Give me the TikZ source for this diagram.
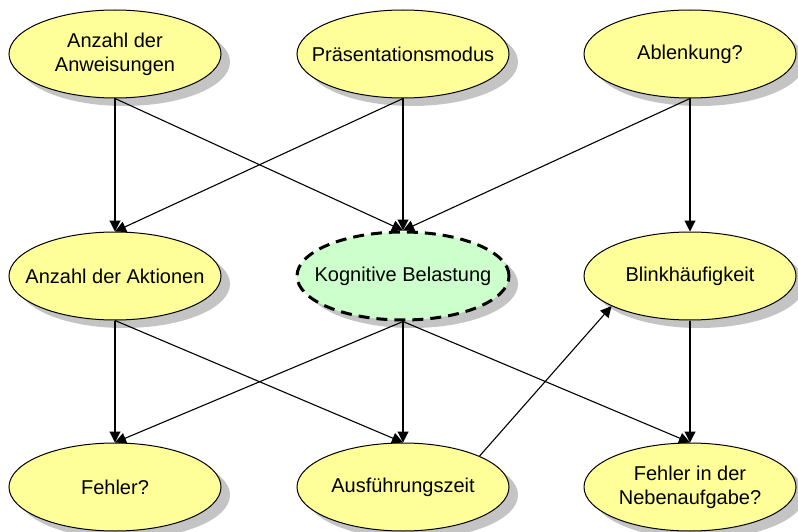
\documentclass[tikz,border=0pt]{standalone}
\usepackage{fontspec}
\setmainfont{Liberation Sans}
\usetikzlibrary{shapes.geometric,arrows.meta,shadows}
\definecolor{nodeyellow}{HTML}{FFFF99}
\definecolor{nodegreen}{HTML}{CCFFCC}
\definecolor{shadowgray}{HTML}{C4C4C4}
\tikzset{
  var/.style={ellipse, draw=black, line width=1pt, fill=nodeyellow,
    minimum width=212pt, minimum height=88pt,
    inner xsep=-30pt, inner ysep=-12pt,
    align=center, font=\fontsize{20}{24}\selectfont,
    drop shadow={shadow xshift=9pt, shadow yshift=-8pt, fill=shadowgray, opacity=1}},
  latent/.style={var, fill=nodegreen, line width=3pt, dash pattern=on 11pt off 7pt},
  link/.style={line width=1.1pt, -{Triangle[length=11pt,width=11pt]}}
}
\begin{document}
\begin{tikzpicture}[x=1pt,y=-1pt]
\useasboundingbox (0,0) rectangle (798,532);

% upper row
\node[var] (anw)  at (115,54) {Anzahl der\\Anweisungen};
\node[var] (praes) at (403,54) {Präsentationsmodus};
\node[var] (abl)  at (690,54) {Ablenkung?};

% middle row
\node[var]    (akt)   at (115,276) {Anzahl der Aktionen};
\node[latent] (kog)   at (403,276) {Kognitive Belastung};
\node[var]    (blink) at (690,276) {Blinkhäufigkeit};

% lower row
\node[var] (fehl)  at (115,487) {Fehler?};
\node[var] (ausf)  at (403,487) {Ausführungszeit};
\node[var] (neben) at (690,487) {Fehler in der\\Nebenaufgabe?};

% influences
\draw[link] (anw.south) -- (akt.north);
\draw[link] (anw.south) -- (kog.north);
\draw[link] (praes.south) -- (kog.north);
\draw[link] (praes.south) -- (akt.north);
\draw[link] (abl.south) -- (kog.north);
\draw[link] (abl.south) -- (blink.north);

\draw[link] (akt.south) -- (fehl.north);
\draw[link] (akt.south) -- (ausf.north);
\draw[link] (kog.south) -- (fehl.north);
\draw[link] (kog.south) -- (ausf.north);
\draw[link] (kog.south) -- (neben.north);
\draw[link] (blink.south) -- (neben.north);

\draw[link] (ausf.22) -- (blink.201);
\end{tikzpicture}
\end{document}
